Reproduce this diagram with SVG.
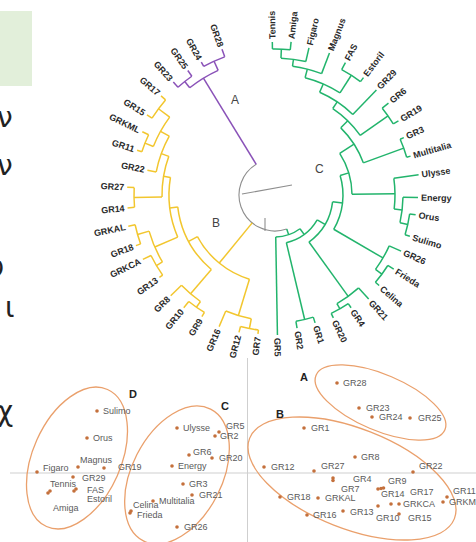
<svg xmlns="http://www.w3.org/2000/svg" width="476" height="542" viewBox="0 0 476 542">
<style>
  .br line, .br circle { fill: none; stroke-width: 1.5; }
  .g line, .g circle { stroke: #22b46c; }
  .y line, .y circle { stroke: #f2c62e; }
  .p line, .p circle { stroke: #8a52b8; }
  .k line, .k circle, .k path { stroke: #8e8e8e; stroke-width: 1.1; fill: none; }
  .leaf text { font-family: "Liberation Sans", Arial, sans-serif; font-size: 9px; font-weight: bold; fill: #2a2a2a; }
  .leaf .l { text-anchor: end; }
  .clade { font-family: "Liberation Sans", Arial, sans-serif; font-size: 12px; fill: #444; }
  .pt circle { fill: #c4703c; }
  .pt text { font-family: "Liberation Sans", Arial, sans-serif; font-size: 9px; fill: #5a5a5a; }
  .grp { fill: none; stroke: #eaa06c; stroke-width: 1.3; }
  .glab { font-family: "Liberation Sans", Arial, sans-serif; font-size: 11px; font-weight: bold; fill: #222; }
  .axis { stroke: #cfcfcf; stroke-width: 1; }
  .side { font-family: "DejaVu Sans", "Noto Sans", sans-serif; font-size: 28px; fill: #222; }
</style>

<!-- edge of the neighbouring panel -->
<rect x="0" y="11" width="32" height="75" fill="#e2efda"/>
<text class="side" x="-3" y="127">ν</text>
<text class="side" x="-3" y="175">ν</text>
<text class="side" x="-12" y="277">υ</text>
<text class="side" x="5" y="317">ι</text>
<text class="side" x="-3" y="421">χ</text>

<!-- circular dendrogram, centred on the root -->
<g id="dendrogram" transform="translate(275,195)">
  <g id="branches" class="br">
    <g class="k">
      <circle r="36" transform="rotate(71)" stroke-dasharray="105.24 3000"/>
      <line x1="-33" y1="-1" x2="17" y2="-10"/>
      <line x1="-10" y1="23" x2="-10" y2="36"/>
    </g>
    <!-- clade A -->
    <g class="p">
      <line x1="145" x2="152" transform="rotate(228)"/>
      <line x1="145" x2="152" transform="rotate(235)"/>
      <line x1="147" x2="152" transform="rotate(241)"/>
      <line x1="147" x2="155" transform="rotate(250)"/>
      <line x1="137" x2="145" transform="rotate(231.5)"/>
      <line x1="137" x2="147" transform="rotate(245.5)"/>
      <line x1="36" x2="137" transform="rotate(238.5)"/>
      <circle r="145" transform="rotate(228)" stroke-dasharray="17.72 3000"/>
      <circle r="147" transform="rotate(241)" stroke-dasharray="23.09 3000"/>
      <circle r="137" transform="rotate(231.5)" stroke-dasharray="33.47 3000"/>
    </g>
    <!-- clade B -->
    <g class="y">
      <line x1="145" x2="151" transform="rotate(221)"/>
      <line x1="145" x2="151" transform="rotate(212)"/>
      <line x1="140" x2="147" transform="rotate(205.5)"/>
      <line x1="140" x2="145" transform="rotate(198)"/>
      <line x1="121" x2="130" transform="rotate(191)"/>
      <line x1="141" x2="148" transform="rotate(183)"/>
      <line x1="141" x2="148" transform="rotate(175)"/>
      <line x1="143" x2="150" transform="rotate(168)"/>
      <line x1="143" x2="148" transform="rotate(160)"/>
      <line x1="138" x2="147" transform="rotate(154)"/>
      <line x1="138" x2="142" transform="rotate(144.5)"/>
      <line x1="130" x2="145" transform="rotate(136)"/>
      <line x1="137" x2="145" transform="rotate(129)"/>
      <line x1="137" x2="142" transform="rotate(121)"/>
      <line x1="126" x2="143" transform="rotate(113)"/>
      <line x1="136" x2="142" transform="rotate(104.7)"/>
      <line x1="136" x2="140" transform="rotate(97)"/>
      <line x1="131" x2="145" transform="rotate(216.5)"/>
      <line x1="131" x2="140" transform="rotate(201.75)"/>
      <line x1="121" x2="131" transform="rotate(209.1)"/>
      <line x1="113" x2="121" transform="rotate(200)"/>
      <line x1="113" x2="141" transform="rotate(179)"/>
      <line x1="106" x2="113" transform="rotate(189.5)"/>
      <line x1="131" x2="143" transform="rotate(164)"/>
      <line x1="131" x2="138" transform="rotate(149.25)"/>
      <line x1="106" x2="131" transform="rotate(156.6)"/>
      <line x1="98" x2="106" transform="rotate(173)"/>
      <line x1="130" x2="137" transform="rotate(125)"/>
      <line x1="98" x2="130" transform="rotate(130.5)"/>
      <line x1="88" x2="98" transform="rotate(151.75)"/>
      <line x1="126" x2="136" transform="rotate(100.85)"/>
      <line x1="88" x2="126" transform="rotate(106.9)"/>
      <line x1="36" x2="88" transform="rotate(129.3)"/>
      <circle r="145" transform="rotate(212)" stroke-dasharray="22.78 3000"/>
      <circle r="140" transform="rotate(198)" stroke-dasharray="18.33 3000"/>
      <circle r="131" transform="rotate(201.75)" stroke-dasharray="33.72 3000"/>
      <circle r="121" transform="rotate(191)" stroke-dasharray="38.22 3000"/>
      <circle r="141" transform="rotate(175)" stroke-dasharray="19.69 3000"/>
      <circle r="113" transform="rotate(179)" stroke-dasharray="41.42 3000"/>
      <circle r="143" transform="rotate(160)" stroke-dasharray="19.97 3000"/>
      <circle r="138" transform="rotate(144.5)" stroke-dasharray="22.88 3000"/>
      <circle r="131" transform="rotate(149.25)" stroke-dasharray="33.72 3000"/>
      <circle r="106" transform="rotate(156.6)" stroke-dasharray="60.87 3000"/>
      <circle r="137" transform="rotate(121)" stroke-dasharray="19.13 3000"/>
      <circle r="130" transform="rotate(125)" stroke-dasharray="24.96 3000"/>
      <circle r="98" transform="rotate(130.5)" stroke-dasharray="72.69 3000"/>
      <circle r="136" transform="rotate(97)" stroke-dasharray="18.28 3000"/>
      <circle r="126" transform="rotate(100.85)" stroke-dasharray="26.72 3000"/>
      <circle r="88" transform="rotate(106.9)" stroke-dasharray="68.88 3000"/>
    </g>
    <!-- clade C -->
    <g class="g">
      <line x1="146" x2="153" transform="rotate(-91)"/>
      <line x1="146" x2="154" transform="rotate(-84)"/>
      <line x1="137" x2="151" transform="rotate(-77)"/>
      <line x1="130" x2="152" transform="rotate(-69)"/>
      <line x1="142" x2="150" transform="rotate(-62)"/>
      <line x1="142" x2="147" transform="rotate(-53)"/>
      <line x1="112" x2="146" transform="rotate(-46)"/>
      <line x1="138" x2="146" transform="rotate(-39)"/>
      <line x1="138" x2="144" transform="rotate(-31)"/>
      <line x1="137" x2="141" transform="rotate(-24)"/>
      <line x1="137" x2="141" transform="rotate(-16)"/>
      <line x1="120" x2="145" transform="rotate(-8)"/>
      <line x1="128" x2="143" transform="rotate(1)"/>
      <line x1="136" x2="142" transform="rotate(8)"/>
      <line x1="136" x2="141" transform="rotate(17)"/>
      <line x1="125" x2="138" transform="rotate(24)"/>
      <line x1="133" x2="140" transform="rotate(32)"/>
      <line x1="133" x2="138" transform="rotate(41)"/>
      <line x1="125" x2="140" transform="rotate(48)"/>
      <line x1="131" x2="136" transform="rotate(56)"/>
      <line x1="131" x2="136" transform="rotate(64.6)"/>
      <line x1="128" x2="134" transform="rotate(72.6)"/>
      <line x1="128" x2="135" transform="rotate(80.6)"/>
      <line x1="42" x2="140" transform="rotate(89)"/>
      <line x1="137" x2="146" transform="rotate(-87.5)"/>
      <line x1="130" x2="137" transform="rotate(-82.25)"/>
      <line x1="121" x2="130" transform="rotate(-75.6)"/>
      <line x1="121" x2="142" transform="rotate(-57.5)"/>
      <line x1="112" x2="121" transform="rotate(-66.5)"/>
      <line x1="104" x2="112" transform="rotate(-56.25)"/>
      <line x1="104" x2="138" transform="rotate(-35)"/>
      <line x1="94" x2="104" transform="rotate(-45.6)"/>
      <line x1="94" x2="137" transform="rotate(-20)"/>
      <line x1="77" x2="94" transform="rotate(-32.8)"/>
      <line x1="128" x2="136" transform="rotate(12.5)"/>
      <line x1="120" x2="128" transform="rotate(6.75)"/>
      <line x1="77" x2="120" transform="rotate(-0.6)"/>
      <line x1="68" x2="77" transform="rotate(-16.7)"/>
      <line x1="125" x2="133" transform="rotate(36.5)"/>
      <line x1="68" x2="125" transform="rotate(30.25)"/>
      <line x1="58" x2="68" transform="rotate(6.8)"/>
      <line x1="125" x2="131" transform="rotate(60.3)"/>
      <line x1="58" x2="125" transform="rotate(54.15)"/>
      <line x1="49" x2="58" transform="rotate(30.5)"/>
      <line x1="49" x2="128" transform="rotate(76.6)"/>
      <line x1="42" x2="49" transform="rotate(53.5)"/>
      <line x1="36" x2="42" transform="rotate(71)"/>
      <circle r="146" transform="rotate(-91)" stroke-dasharray="17.84 3000"/>
      <circle r="137" transform="rotate(-87.5)" stroke-dasharray="25.11 3000"/>
      <circle r="130" transform="rotate(-82.25)" stroke-dasharray="30.06 3000"/>
      <circle r="142" transform="rotate(-62)" stroke-dasharray="22.30 3000"/>
      <circle r="121" transform="rotate(-75.6)" stroke-dasharray="38.22 3000"/>
      <circle r="112" transform="rotate(-66.5)" stroke-dasharray="40.07 3000"/>
      <circle r="138" transform="rotate(-39)" stroke-dasharray="19.27 3000"/>
      <circle r="104" transform="rotate(-56.25)" stroke-dasharray="38.57 3000"/>
      <circle r="137" transform="rotate(-24)" stroke-dasharray="19.13 3000"/>
      <circle r="94" transform="rotate(-45.6)" stroke-dasharray="42.0 3000"/>
      <circle r="136" transform="rotate(8)" stroke-dasharray="21.36 3000"/>
      <circle r="128" transform="rotate(1)" stroke-dasharray="25.69 3000"/>
      <circle r="120" transform="rotate(-8)" stroke-dasharray="30.89 3000"/>
      <circle r="77" transform="rotate(-32.8)" stroke-dasharray="43.27 3000"/>
      <circle r="133" transform="rotate(32)" stroke-dasharray="20.89 3000"/>
      <circle r="125" transform="rotate(24)" stroke-dasharray="27.27 3000"/>
      <circle r="68" transform="rotate(-16.7)" stroke-dasharray="55.72 3000"/>
      <circle r="131" transform="rotate(56)" stroke-dasharray="19.66 3000"/>
      <circle r="125" transform="rotate(48)" stroke-dasharray="26.83 3000"/>
      <circle r="58" transform="rotate(6.8)" stroke-dasharray="47.93 3000"/>
      <circle r="128" transform="rotate(72.6)" stroke-dasharray="17.87 3000"/>
      <circle r="49" transform="rotate(30.5)" stroke-dasharray="39.42 3000"/>
      <circle r="42" transform="rotate(53.5)" stroke-dasharray="26.02 3000"/>
    </g>
  </g>

  <!-- leaf labels -->
  <g class="leaf">
    <g id="t-Tennis"><text transform="rotate(-91)" x="156" dy="3.2">Tennis</text></g>
    <g id="t-Amiga"><text transform="rotate(-84)" x="157" dy="3.2">Amiga</text></g>
    <g id="t-Figaro"><text transform="rotate(-77)" x="154" dy="3.2">Figaro</text></g>
    <g id="t-Magnus"><text transform="rotate(-69)" x="155" dy="3.2">Magnus</text></g>
    <g id="t-FAS"><text transform="rotate(-62)" x="153" dy="3.2">FAS</text></g>
    <g id="t-Estoril"><text transform="rotate(-53)" x="150" dy="3.2">Estoril</text></g>
    <g id="t-GR29"><text transform="rotate(-46)" x="149" dy="3.2">GR29</text></g>
    <g id="t-GR6"><text transform="rotate(-39)" x="149" dy="3.2">GR6</text></g>
    <g id="t-GR19"><text transform="rotate(-31)" x="147" dy="3.2">GR19</text></g>
    <g id="t-GR3"><text transform="rotate(-24)" x="144" dy="3.2">GR3</text></g>
    <g id="t-Multitalia"><text transform="rotate(-16)" x="144" dy="3.2">Multitalia</text></g>
    <g id="t-Ulysse"><text transform="rotate(-8)" x="148" dy="3.2">Ulysse</text></g>
    <g id="t-Energy"><text transform="rotate(1)" x="146" dy="3.2">Energy</text></g>
    <g id="t-Orus"><text transform="rotate(8)" x="145" dy="3.2">Orus</text></g>
    <g id="t-Sulimo"><text transform="rotate(17)" x="144" dy="3.2">Sulimo</text></g>
    <g id="t-GR26"><text transform="rotate(24)" x="141" dy="3.2">GR26</text></g>
    <g id="t-Frieda"><text transform="rotate(32)" x="143" dy="3.2">Frieda</text></g>
    <g id="t-Celina"><text transform="rotate(41)" x="141" dy="3.2">Celina</text></g>
    <g id="t-GR21"><text transform="rotate(48)" x="143" dy="3.2">GR21</text></g>
    <g id="t-GR4"><text transform="rotate(56)" x="139" dy="3.2">GR4</text></g>
    <g id="t-GR20"><text transform="rotate(64.6)" x="139" dy="3.2">GR20</text></g>
    <g id="t-GR1"><text transform="rotate(72.6)" x="137" dy="3.2">GR1</text></g>
    <g id="t-GR2"><text transform="rotate(80.6)" x="138" dy="3.2">GR2</text></g>
    <g id="t-GR5"><text transform="rotate(89)" x="143" dy="3.2">GR5</text></g>
    <g id="t-GR7"><text class="l" transform="rotate(-83)" x="-143" dy="3.2">GR7</text></g>
    <g id="t-GR12"><text class="l" transform="rotate(-75.3)" x="-145" dy="3.2">GR12</text></g>
    <g id="t-GR16"><text class="l" transform="rotate(-67)" x="-146" dy="3.2">GR16</text></g>
    <g id="t-GR9"><text class="l" transform="rotate(-59)" x="-145" dy="3.2">GR9</text></g>
    <g id="t-GR10"><text class="l" transform="rotate(-51)" x="-148" dy="3.2">GR10</text></g>
    <g id="t-GR8"><text class="l" transform="rotate(-44)" x="-148" dy="3.2">GR8</text></g>
    <g id="t-GR13"><text class="l" transform="rotate(-35.5)" x="-145" dy="3.2">GR13</text></g>
    <g id="t-GRKCA"><text class="l" transform="rotate(-26)" x="-150" dy="3.2">GRKCA</text></g>
    <g id="t-GR18"><text class="l" transform="rotate(-20)" x="-151" dy="3.2">GR18</text></g>
    <g id="t-GRKAL"><text class="l" transform="rotate(-12)" x="-153" dy="3.2">GRKAL</text></g>
    <g id="t-GR14"><text class="l" transform="rotate(-5)" x="-151" dy="3.2">GR14</text></g>
    <g id="t-GR27"><text class="l" transform="rotate(3)" x="-151" dy="3.2">GR27</text></g>
    <g id="t-GR22"><text class="l" transform="rotate(11)" x="-133" dy="3.2">GR22</text></g>
    <g id="t-GR11"><text class="l" transform="rotate(18)" x="-148" dy="3.2">GR11</text></g>
    <g id="t-GRKML"><text class="l" transform="rotate(25.5)" x="-150" dy="3.2">GRKML</text></g>
    <g id="t-GR15"><text class="l" transform="rotate(32)" x="-154" dy="3.2">GR15</text></g>
    <g id="t-GR17"><text class="l" transform="rotate(41)" x="-154" dy="3.2">GR17</text></g>
    <g id="t-GR23"><text class="l" transform="rotate(48)" x="-155" dy="3.2">GR23</text></g>
    <g id="t-GR25"><text class="l" transform="rotate(55)" x="-155" dy="3.2">GR25</text></g>
    <g id="t-GR24"><text class="l" transform="rotate(61)" x="-155" dy="3.2">GR24</text></g>
    <g id="t-GR28"><text class="l" transform="rotate(70)" x="-158" dy="3.2">GR28</text></g>
  </g>
</g>

<g id="clade-labels" class="clade">
  <text x="231" y="104">A</text>
  <text x="212" y="227">B</text>
  <text x="315" y="173">C</text>
</g>

<!-- ordination plot -->
<g id="plot">
  <line class="axis" x1="10" y1="473" x2="476" y2="473"/>
  <line class="axis" x1="247.5" y1="358" x2="247.5" y2="542"/>

  <g id="group-ellipses">
    <ellipse id="grp-D" class="grp" cx="77" cy="458" rx="75" ry="44" transform="rotate(-66 77 458)"/>
    <ellipse id="grp-C" class="grp" cx="177" cy="475" rx="74" ry="45" transform="rotate(-63 177 475)"/>
    <ellipse id="grp-A" class="grp" cx="380.5" cy="402.5" rx="70" ry="28" transform="rotate(23 380.5 402.5)"/>
    <ellipse id="grp-B" class="grp" cx="352" cy="478.5" rx="110" ry="50" transform="rotate(21.4 352 478.5)"/>
  </g>
  <g class="glab">
    <text x="129" y="398">D</text>
    <text x="221" y="410">C</text>
    <text x="300" y="381">A</text>
    <text x="276" y="418">B</text>
  </g>

  <g class="pt">
    <g id="p-Sulimo"><circle cx="97" cy="411" r="1.8"/><text x="103" y="414">Sulimo</text></g>
    <g id="p-Orus"><circle cx="87" cy="438" r="1.8"/><text x="93" y="441">Orus</text></g>
    <g id="p-Magnus"><circle cx="78" cy="467" r="1.8"/><text x="80" y="463">Magnus</text></g>
    <g id="p-Figaro"><circle cx="37" cy="472" r="1.8"/><text x="43" y="471">Figaro</text></g>
    <g id="p-GR19"><circle cx="104" cy="468" r="1.8"/><text x="118" y="470">GR19</text></g>
    <g id="p-GR29"><circle cx="73" cy="477" r="1.8"/><text x="82" y="481">GR29</text></g>
    <g id="p-Tennis"><circle cx="48" cy="493" r="1.8"/><text x="50" y="487" font-size="8">Tennis</text></g>
    <g id="p-Amiga"><circle cx="50" cy="491" r="1.8"/><text x="53" y="511">Amiga</text></g>
    <g id="p-FAS"><circle cx="74" cy="491" r="1.8"/><text x="87" y="493">FAS</text></g>
    <g id="p-Estoril"><circle cx="76" cy="489" r="1.8"/><text x="87" y="502">Estoril</text></g>

    <g id="p-Ulysse"><circle cx="177" cy="428" r="1.8"/><text x="183" y="431">Ulysse</text></g>
    <g id="p-GR5"><circle cx="219" cy="432" r="1.8"/><text x="226" y="429">GR5</text></g>
    <g id="p-GR2"><circle cx="215" cy="436" r="1.8"/><text x="220" y="439">GR2</text></g>
    <g id="p-GR6"><circle cx="189" cy="455" r="1.8"/><text x="193" y="455">GR6</text></g>
    <g id="p-GR20"><circle cx="212" cy="458" r="1.8"/><text x="219" y="461">GR20</text></g>
    <g id="p-Energy"><circle cx="172" cy="466" r="1.8"/><text x="178" y="469">Energy</text></g>
    <g id="p-GR3"><circle cx="183" cy="484" r="1.8"/><text x="189" y="487">GR3</text></g>
    <g id="p-GR21"><circle cx="192" cy="495" r="1.8"/><text x="199" y="498">GR21</text></g>
    <g id="p-Multitalia"><circle cx="153" cy="501" r="1.8"/><text x="159" y="504">Multitalia</text></g>
    <g id="p-Celina"><circle cx="131" cy="511" r="1.8"/><text x="133" y="508">Celina</text></g>
    <g id="p-Frieda"><circle cx="130" cy="513" r="1.8"/><text x="137" y="518">Frieda</text></g>
    <g id="p-GR26"><circle cx="177" cy="527" r="1.8"/><text x="184" y="530">GR26</text></g>

    <g id="p-GR28"><circle cx="337" cy="383" r="1.8"/><text x="343" y="386">GR28</text></g>
    <g id="p-GR23"><circle cx="359" cy="408" r="1.8"/><text x="366" y="411">GR23</text></g>
    <g id="p-GR24"><circle cx="372" cy="417" r="1.8"/><text x="379" y="420">GR24</text></g>
    <g id="p-GR25"><circle cx="410" cy="418" r="1.8"/><text x="418" y="421">GR25</text></g>

    <g id="p-GR1"><circle cx="304" cy="428" r="1.8"/><text x="311" y="431">GR1</text></g>
    <g id="p-GR8"><circle cx="355" cy="457" r="1.8"/><text x="361" y="460">GR8</text></g>
    <g id="p-GR12"><circle cx="264" cy="467" r="1.8"/><text x="271" y="470">GR12</text></g>
    <g id="p-GR27"><circle cx="314" cy="471" r="1.8"/><text x="321" y="469">GR27</text></g>
    <g id="p-GR22"><circle cx="413" cy="472" r="1.8"/><text x="419" y="469">GR22</text></g>
    <g id="p-GR4"><circle cx="333" cy="478" r="1.8"/><text x="353" y="482">GR4</text></g>
    <g id="p-GR7"><circle cx="333" cy="480.5" r="1.8"/><text x="341" y="492">GR7</text></g>
    <g id="p-GR9"><circle cx="378" cy="489" r="1.8"/><text x="388" y="484">GR9</text></g>
    <g id="p-GR14"><circle cx="381" cy="488.5" r="1.8"/><text x="381" y="497">GR14</text></g>
    <g id="p-GR17"><circle cx="383.5" cy="488" r="1.8"/><text x="410" y="495">GR17</text></g>
    <g id="p-GR11"><circle cx="447" cy="497" r="1.8"/><text x="453" y="494">GR11</text></g>
    <g id="p-GR18"><circle cx="280" cy="497" r="1.8"/><text x="287" y="500">GR18</text></g>
    <g id="p-GRKAL"><circle cx="318" cy="498" r="1.8"/><text x="325" y="501">GRKAL</text></g>
    <g id="p-GRKCA"><circle cx="391" cy="504" r="1.8"/><circle cx="399" cy="504" r="1.8"/><text x="403" y="507">GRKCA</text></g>
    <g id="p-GRKML"><circle cx="443" cy="502" r="1.8"/><text x="449" y="505">GRKML</text></g>
    <g id="p-GR16"><circle cx="307" cy="515" r="1.8"/><text x="313" y="518">GR16</text></g>
    <g id="p-GR13"><circle cx="343" cy="511" r="1.8"/><text x="350" y="515">GR13</text></g>
    <g id="p-GR10"><circle cx="378" cy="506" r="1.8"/><text x="376" y="521">GR10</text></g>
    <g id="p-GR15"><circle cx="399" cy="514" r="1.8"/><text x="408" y="521">GR15</text></g>
  </g>
</g>
</svg>
